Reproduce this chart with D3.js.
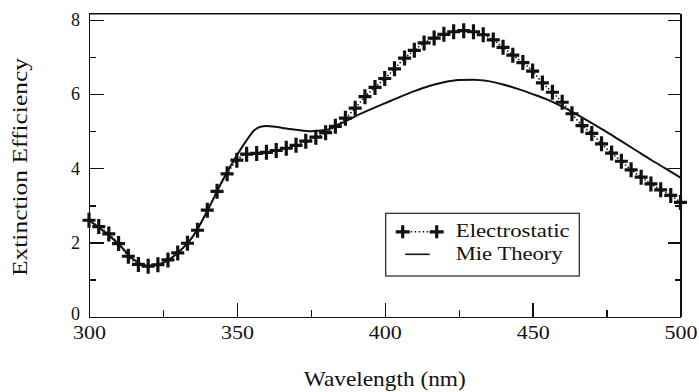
<!DOCTYPE html>
<meta charset="utf-8">
<title>Extinction Efficiency</title>
<style>
body {
  margin: 0;
  background: #fff;
}
svg {
  display: block;
}
text {
  font-family: 'Liberation Serif', 'Times New Roman', serif;
  fill: #111;
}
.axis path,
.axis line {
  stroke: #111;
  stroke-width: 1.3;
  shape-rendering: crispEdges;
}
.axis text {
  font-size: 18px;
}
</style>
<body>
  <svg width="699" height="392"></svg>
</body>
<script src="https://d3js.org/d3.v7.min.js"></script>
<script>
// electrostatic calculation (markers)
var esWave = [300, 303.3, 306.7, 310, 313.3, 316.7, 320, 323.3, 326.7, 330,
  333.3, 336.7, 340, 343.3, 346.7, 350, 353.3, 356.7, 360, 363.3,
  366.7, 370, 373.3, 376.7, 380, 383.3, 386.7, 390, 393.3, 396.7,
  400, 403.3, 406.7, 410, 413.3, 416.7, 420, 423.3, 426.7, 430,
  433.3, 436.7, 440, 443.3, 446.7, 450, 453.3, 456.7, 460, 463.3,
  466.7, 470, 473.3, 476.7, 480, 483.3, 486.7, 490, 493.3, 496.7, 500];
var esValue = [2.60, 2.43, 2.23, 1.97, 1.63, 1.41, 1.36, 1.40, 1.53, 1.72,
  1.98, 2.33, 2.87, 3.38, 3.85, 4.22, 4.38, 4.40, 4.43, 4.48,
  4.54, 4.62, 4.73, 4.84, 4.96, 5.13, 5.35, 5.62, 5.93, 6.18,
  6.42, 6.68, 6.97, 7.18, 7.38, 7.51, 7.61, 7.68, 7.71, 7.68,
  7.60, 7.46, 7.26, 7.05, 6.85, 6.62, 6.30, 6.05, 5.78, 5.47,
  5.15, 4.94, 4.66, 4.41, 4.19, 3.96, 3.76, 3.58, 3.42, 3.27, 3.08];

// Mie theory (solid line)
var mieWave = [300, 305, 310, 315, 320, 325, 330, 335, 340, 345,
  350, 353, 356, 358, 360, 363, 366, 370, 375, 380,
  385, 390, 395, 400, 405, 410, 415, 420, 425, 430,
  435, 440, 445, 450, 455, 460, 465, 470, 475, 480,
  485, 490, 495, 500];
var mieValue = [2.60, 2.30, 1.96, 1.55, 1.37, 1.45, 1.72, 2.15, 2.85, 3.65,
  4.35, 4.72, 5.03, 5.12, 5.14, 5.12, 5.08, 5.04, 5.00, 5.03,
  5.20, 5.40, 5.58, 5.75, 5.92, 6.08, 6.22, 6.32, 6.38, 6.39,
  6.35, 6.26, 6.14, 6.00, 5.85, 5.66, 5.45, 5.22, 4.98, 4.73,
  4.48, 4.23, 3.99, 3.75];

var xMajor = [300, 350, 400, 450, 500],
    xMinor = [325, 375, 425, 475],
    yMajor = [0, 2, 4, 6, 8],
    yMinor = [1, 3, 5, 7];
var legendLabels = ["Electrostatic", "Mie Theory"];
var xTitle = "Wavelength (nm)",
    yTitle = "Extinction Efficiency";

var svg = d3.select("svg"),
    margin = {top: 13.7, right: 18.5, bottom: 75.3, left: 89},
    width = +svg.attr("width") - margin.left - margin.right,
    height = +svg.attr("height") - margin.top - margin.bottom,
    g = svg.append("g").attr("transform", "translate(" + margin.left + "," + margin.top + ")");

var x = d3.scaleLinear()
    .domain([300, 500])
    .range([0, width]);

var y = d3.scaleLinear()
    .domain([0, 8.167])
    .range([height, 0]);

// bottom axis, ticks pointing in
g.append("g")
    .attr("class", "axis")
    .attr("transform", "translate(0," + height + ")")
    .call(d3.axisBottom(x).tickValues(xMajor).tickSizeInner(-14).tickSizeOuter(0).tickPadding(10))
    .selectAll("text")
    .attr("textLength", 33)
    .attr("lengthAdjust", "spacingAndGlyphs");

g.append("g")
    .attr("class", "axis")
    .attr("transform", "translate(0," + height + ")")
    .call(d3.axisBottom(x).tickValues(xMinor).tickSize(-7).tickFormat(""))
    .select(".domain").remove();

// left axis
g.append("g")
    .attr("class", "axis")
    .call(d3.axisLeft(y).tickValues(yMajor).tickSizeInner(-15).tickSizeOuter(0).tickPadding(9))
    .selectAll("text")
    .attr("dy", function(d) { return d === 0 ? "0.15em" : "0.32em"; });

g.append("g")
    .attr("class", "axis")
    .call(d3.axisLeft(y).tickValues(yMinor).tickSize(-7).tickFormat(""))
    .select(".domain").remove();

// right axis
g.append("g")
    .attr("class", "axis")
    .attr("transform", "translate(" + width + ",0)")
    .call(d3.axisRight(y).tickValues(yMajor).tickSizeInner(-13).tickSizeOuter(0).tickFormat(""));

g.append("g")
    .attr("class", "axis")
    .attr("transform", "translate(" + width + ",0)")
    .call(d3.axisRight(y).tickValues(yMinor).tickSize(-6).tickFormat(""))
    .select(".domain").remove();

// top frame line
g.append("line")
    .attr("x1", 0).attr("x2", width)
    .attr("y1", 0).attr("y2", 0)
    .attr("stroke", "#111")
    .attr("stroke-width", 1.5);

var mieData = mieWave.map(function(w, i) { return {w: w, v: mieValue[i]}; });
var esData = esWave.map(function(w, i) { return {w: w, v: esValue[i]}; });

var line = d3.line()
    .x(function(d) { return x(d.w); })
    .y(function(d) { return y(d.v); })
    .curve(d3.curveMonotoneX);

// Mie line
g.append("path")
    .datum(mieData)
    .attr("fill", "none")
    .attr("stroke", "#111")
    .attr("stroke-width", 2)
    .attr("d", line);

// electrostatic dotted line + plus markers
g.append("path")
    .datum(esData)
    .attr("fill", "none")
    .attr("stroke", "#111")
    .attr("stroke-width", 1.5)
    .attr("stroke-dasharray", "1.5,2")
    .attr("d", line);

var plus = "M-6.5,0H6.5M0,-7.5V7.5";

g.append("g")
    .selectAll("path")
    .data(esData)
    .enter().append("path")
    .attr("transform", function(d) { return "translate(" + x(d.w) + "," + y(d.v) + ")"; })
    .attr("d", plus)
    .attr("stroke", "#111")
    .attr("stroke-width", 3.2)
    .attr("fill", "none");

// legend
var legend = svg.append("g").attr("transform", "translate(385.7,213.3)");

legend.append("rect")
    .attr("width", 193.6)
    .attr("height", 62.7)
    .attr("fill", "#fff")
    .attr("stroke", "#222")
    .attr("stroke-width", 1.2);

legend.append("line")
    .attr("x1", 17).attr("x2", 51)
    .attr("y1", 18.5).attr("y2", 18.5)
    .attr("stroke", "#111")
    .attr("stroke-width", 1.5)
    .attr("stroke-dasharray", "1.5,2.5");

legend.selectAll("path.lg")
    .data([17, 51])
    .enter().append("path")
    .attr("class", "lg")
    .attr("transform", function(d) { return "translate(" + d + ",18.5)"; })
    .attr("d", "M-7,0H7M0,-6.5V6.5")
    .attr("stroke", "#111")
    .attr("stroke-width", 3.2);

legend.append("line")
    .attr("x1", 19.5).attr("x2", 44)
    .attr("y1", 41).attr("y2", 41)
    .attr("stroke", "#111")
    .attr("stroke-width", 1.6);

legend.selectAll("text")
    .data(legendLabels)
    .enter().append("text")
    .attr("x", 70)
    .attr("y", function(d, i) { return i ? 46.5 : 23.5; })
    .attr("font-size", "19px")
    .attr("textLength", function(d, i) { return i ? 107 : 114; })
    .attr("lengthAdjust", "spacingAndGlyphs")
    .text(function(d) { return d; });

// axis titles
svg.append("text")
    .attr("x", margin.left + width / 2)
    .attr("y", 386)
    .attr("text-anchor", "middle")
    .attr("font-size", "21px")
    .attr("textLength", 162)
    .attr("lengthAdjust", "spacingAndGlyphs")
    .text(xTitle);

svg.append("text")
    .attr("transform", "translate(27,167) rotate(-90)")
    .attr("text-anchor", "middle")
    .attr("font-size", "21px")
    .attr("textLength", 218)
    .attr("lengthAdjust", "spacingAndGlyphs")
    .text(yTitle);
</script>
